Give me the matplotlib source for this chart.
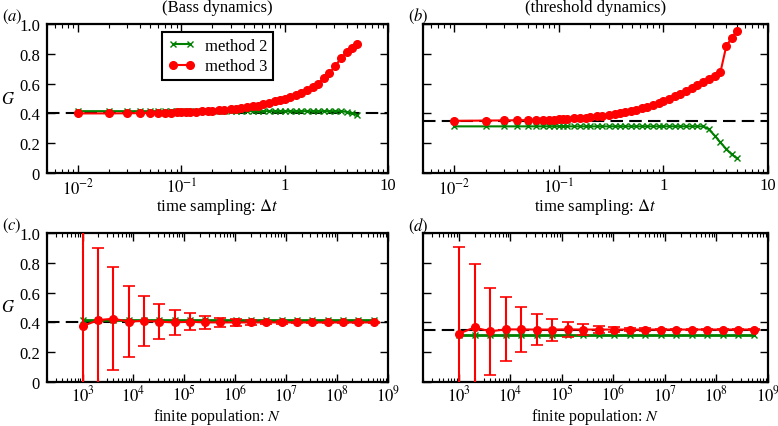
import matplotlib
matplotlib.use('Agg')
import numpy as np
import matplotlib.pyplot as plt
from matplotlib.ticker import LogLocator, NullFormatter, FixedLocator, FixedFormatter

plt.rcParams['font.family'] = ['Liberation Serif', 'DejaVu Serif']
plt.rcParams['mathtext.fontset'] = 'stix'
plt.rcParams['font.size'] = 12

# time sampling grid
dt = [0.01, 0.02, 0.03, 0.04, 0.05, 0.06, 0.07, 0.08, 0.09, 0.10,
      0.11, 0.12, 0.14, 0.16, 0.18, 0.2, 0.23, 0.26, 0.3, 0.34, 0.38,
      0.43, 0.49, 0.55, 0.62, 0.7, 0.8, 0.9, 1.0,
      1.13, 1.28, 1.45, 1.65, 1.87, 2.1, 2.4, 2.7, 3.1, 3.5, 4.0, 4.5, 5.0]

bass_m2 = [0.415] * 39 + [0.41, 0.40, 0.39]
bass_m3 = [0.400, 0.400, 0.401, 0.402, 0.403, 0.404, 0.405, 0.406, 0.407, 0.408,
           0.409, 0.410, 0.412, 0.414, 0.416, 0.418, 0.421, 0.424, 0.428, 0.432, 0.436,
           0.441, 0.447, 0.453, 0.461, 0.470, 0.481, 0.492, 0.500,
           0.510, 0.525, 0.540, 0.560, 0.580, 0.600, 0.635, 0.670, 0.720, 0.770, 0.810, 0.840, 0.865]

thr_m2 = [0.313] * 36 + [0.295, 0.25, 0.205, 0.16, 0.125, 0.10]
thr_m3 = [0.350, 0.352, 0.353, 0.354, 0.355, 0.356, 0.357, 0.358, 0.359, 0.360,
          0.362, 0.363, 0.366, 0.369, 0.372, 0.375, 0.380, 0.385, 0.391, 0.397, 0.403,
          0.410, 0.418, 0.426, 0.435, 0.445, 0.458, 0.472, 0.485,
          0.500, 0.515, 0.530, 0.548, 0.568, 0.590, 0.610, 0.630, 0.650, 0.675, 0.855, 0.905, 0.955]

# finite population grid
N = [1000, 2000, 4000, 8000, 16000, 32000, 64000, 128000, 256000, 512000,
     1024000, 2048000, 4096000, 8192000, 16384000, 32768000, 65536000,
     131072000, 262144000, 524288000]

bass_m2_N = [0.415] * 20
bass_m3_N = [0.375, 0.415, 0.425, 0.405, 0.41, 0.405, 0.40, 0.405, 0.40, 0.40,
             0.40, 0.40, 0.40, 0.40, 0.40, 0.40, 0.40, 0.40, 0.40, 0.40]
bass_err_N = [0.68, 0.485, 0.346, 0.24, 0.17, 0.118, 0.085, 0.058, 0.042, 0.03,
              0.021, 0.015, 0.011, 0.008, 0.005, 0.004, 0.003, 0.002, 0.0015, 0.001]

thr_m2_N = [0.313] * 20
thr_m3_N = [0.325, 0.366, 0.34, 0.353, 0.353, 0.352, 0.352, 0.353, 0.352, 0.352,
            0.352, 0.352, 0.352, 0.352, 0.352, 0.352, 0.352, 0.352, 0.352, 0.352]
thr_err_N = [0.58, 0.424, 0.29, 0.215, 0.152, 0.105, 0.074, 0.052, 0.037, 0.025,
             0.018, 0.013, 0.009, 0.006, 0.0045, 0.003, 0.002, 0.0016, 0.001, 0.0008]

G_bass = 0.40
G_thr = 0.35

green = (0.0, 0.5, 0.0)
red = (1.0, 0.0, 0.0)
W, H = 778, 427

fig = plt.figure(figsize=(W / 100, H / 100), dpi=100)


def box(l, t, r, b):
    return [l / W, 1 - b / H, (r - l) / W, (b - t) / H]


ax_a = fig.add_axes(box(47, 25, 388, 174))
ax_b = fig.add_axes(box(423, 25, 768, 174))
ax_c = fig.add_axes(box(47, 234, 388, 383))
ax_d = fig.add_axes(box(423, 234, 768, 383))

dash = (0, (6, 3))

# top row: time sampling
for ax, g, m2, m3 in [(ax_a, G_bass, bass_m2, bass_m3), (ax_b, G_thr, thr_m2, thr_m3)]:
    ax.axhline(g, color='k', lw=1.5, ls=dash, zorder=1)
    ax.plot(dt, m2, color=green, marker='x', ms=4, mew=1, lw=1.5, label='method 2', zorder=2)
    ax.plot(dt, m3, color=red, marker='o', ms=5.5, mec=red, lw=1.5, label='method 3', zorder=3)
    ax.set_xscale('log')
    ax.set_xlim(0.005, 10)
    ax.xaxis.set_major_locator(FixedLocator([0.01, 0.1, 1, 10]))
    ax.xaxis.set_major_formatter(FixedFormatter([r'$10^{-2}$', r'$10^{-1}$', '1', '10']))
    ax.set_xlabel(r'time sampling: $\Delta t$', va='center')
    ax.xaxis.set_label_coords(0.5, (174 - 207) / 149)

# bottom row: finite population
for ax, g, m2, m3, err in [(ax_c, G_bass, bass_m2_N, bass_m3_N, bass_err_N),
                           (ax_d, G_thr, thr_m2_N, thr_m3_N, thr_err_N)]:
    ax.axhline(g, color='k', lw=1.5, ls=dash, zorder=1)
    ax.plot(N, m2, color=green, marker='x', ms=4, mew=1, lw=2, zorder=2)
    ax.errorbar(N, m3, yerr=err, color=red, marker='o', ms=5.5, mec=red, lw=1.5,
                elinewidth=1.5, capsize=4, capthick=1.2, zorder=3)
    ax.set_xscale('log')
    ax.set_xlim(2e2, 1e9)
    ax.xaxis.set_major_locator(FixedLocator([1e3, 1e4, 1e5, 1e6, 1e7, 1e8, 1e9]))
    ax.xaxis.set_major_formatter(FixedFormatter([r'$10^{%d}$' % k for k in range(3, 10)]))
    ax.set_xlabel(r'finite population: $N$', va='center', fontsize=11.5)
    ax.xaxis.set_label_coords(0.5, (383 - 417) / 149)

for ax in [ax_a, ax_b, ax_c, ax_d]:
    ax.set_ylim(0, 1)
    ax.set_yticks([0, 0.2, 0.4, 0.6, 0.8, 1.0])
    ax.xaxis.set_minor_locator(LogLocator(base=10, subs=np.arange(2, 10), numticks=100))
    ax.xaxis.set_minor_formatter(NullFormatter())
    ax.tick_params(which='both', direction='in', top=True, right=True)
    ax.tick_params(which='major', length=6, width=1, pad=3)
    ax.tick_params(axis='y', which='major', pad=5)
    ax.tick_params(which='minor', length=3, width=0.8)
    for s in ax.spines.values():
        s.set_linewidth(1.6)

for ax in [ax_c, ax_d]:
    ax.tick_params(axis='x', which='major', pad=1.5)

for ax in [ax_a, ax_c]:
    ax.set_yticklabels(['0', '0.2', '0.4', '0.6', '0.8', '1.0'])
    ax.set_ylabel(r'$G$', rotation=0, va='center', ha='center')
    ax.yaxis.set_label_coords((8 - 47) / 341, 0.5)
for ax in [ax_b, ax_d]:
    ax.set_yticklabels([])

ax_a.text(0.5, 1 + 17 / 149, '(Bass dynamics)', transform=ax_a.transAxes,
          ha='center', va='center')
ax_b.text(0.5, 1 + 17 / 149, '(threshold dynamics)', transform=ax_b.transAxes,
          ha='center', va='center')

leg = ax_a.legend(loc='upper center', numpoints=2, fancybox=False, edgecolor='k',
                  framealpha=1, handlelength=1.6, borderaxespad=0.5,
                  borderpad=0.35, labelspacing=0.25, handletextpad=0.6)
leg.get_frame().set_linewidth(1.5)

fig.text(2 / W, 1 - 17 / H, r'$(a)$', va='center')
fig.text(408 / W, 1 - 16 / H, r'$(b)$', va='center')
fig.text(2 / W, 1 - 226 / H, r'$(c)$', va='center')
fig.text(408 / W, 1 - 226 / H, r'$(d)$', va='center')

fig.savefig('out.png', dpi=100)
